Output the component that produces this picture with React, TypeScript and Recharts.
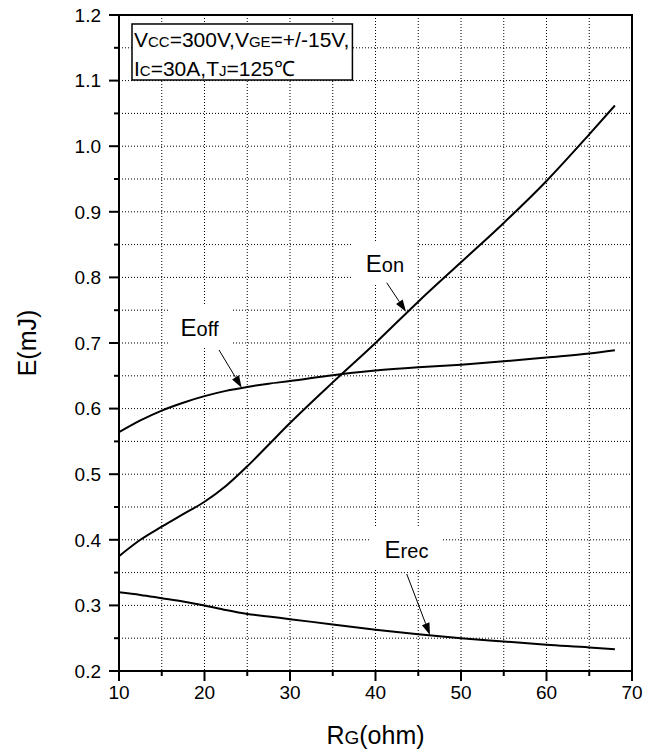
import React from 'react';
import { LineChart, Line, XAxis, YAxis, CartesianGrid, ReferenceArea, ReferenceLine } from 'recharts';

const FONT = '"Liberation Sans", Arial, sans-serif';

// Gate resistance (ohm)
const rgOhm = [10, 12.5, 15, 17.5, 20, 22.5, 25, 27.5, 30, 35, 40, 45, 50, 55, 60, 65, 68];
// Switching energies (mJ)
const eOn = [0.375, 0.4, 0.42, 0.439, 0.458, 0.482, 0.512, 0.545, 0.578, 0.64, 0.7, 0.763, 0.823, 0.883, 0.947, 1.018, 1.062];
const eOff = [0.564, 0.582, 0.597, 0.609, 0.619, 0.627, 0.633, 0.638, 0.642, 0.651, 0.658, 0.663, 0.667, 0.672, 0.678, 0.684, 0.689];
const eRec = [0.32, 0.316, 0.311, 0.306, 0.3, 0.293, 0.287, 0.283, 0.279, 0.271, 0.263, 0.256, 0.25, 0.245, 0.24, 0.236, 0.233];

const xTicks = [10, 15, 20, 25, 30, 35, 40, 45, 50, 55, 60, 65, 70];
const yTicks = [0.2, 0.25, 0.3, 0.35, 0.4, 0.45, 0.5, 0.55, 0.6, 0.65, 0.7, 0.75, 0.8, 0.85, 0.9, 0.95, 1.0, 1.05, 1.1, 1.15, 1.2];

const data = rgOhm.map((rg, i) => ({ rg, eon: eOn[i], eoff: eOff[i], erec: eRec[i] }));

// annotation anchors in data units
const condBox = { x1: 11.52, x2: 37.3, y1: 1.1009, y2: 1.1863 };
const curveLabels = [
  { main: 'E', sub: 'off', x1: 15.73, x2: 23.1, y1: 0.6924, y2: 0.7579 },
  { main: 'E', sub: 'on', x1: 37.37, x2: 44.85, y1: 0.79, y2: 0.8555 },
  { main: 'E', sub: 'rec', x1: 39.36, x2: 47.89, y1: 0.354, y2: 0.4195 },
];
const arrows = [
  { from: { x: 21.7, y: 0.6893 }, to: { x: 24.35, y: 0.6319 } },
  { from: { x: 41.31, y: 0.7919 }, to: { x: 43.57, y: 0.7477 } },
  { from: { x: 43.65, y: 0.3479 }, to: { x: 46.37, y: 0.2549 } },
];

const XTick = (props: any) => {
  const { x, y, payload } = props;
  const v = payload.value;
  const major = Math.round(v) % 10 === 0;
  return (
    <g>
      <line x1={x} y1={y} x2={x} y2={y + (major ? 10 : 5)} stroke="#000" strokeWidth={2} />
      {major && (
        <text x={x} y={y + 28} textAnchor="middle" fontSize={19} fontFamily={FONT} fill="#000">
          {v}
        </text>
      )}
    </g>
  );
};

const YTick = (props: any) => {
  const { x, y, payload } = props;
  const v = payload.value;
  const major = Math.round(v * 100) % 10 === 0;
  return (
    <g>
      <line x1={x} y1={y} x2={x - (major ? 10 : 5)} y2={y} stroke="#000" strokeWidth={2} />
      {major && (
        <text x={x - 18} y={y} dy="0.36em" textAnchor="end" fontSize={19} fontFamily={FONT} fill="#000">
          {v.toFixed(1)}
        </text>
      )}
    </g>
  );
};

const CondBoxShape = (props: any) => {
  const { x, y, width, height } = props;
  const sub = 15;
  return (
    <g>
      <rect x={x} y={y} width={width} height={height} fill="#fff" stroke="#000" strokeWidth={1.5} />
      <text x={x + 2} y={y + 23} fontSize={21} fontFamily={FONT} fill="#000">
        V<tspan fontSize={sub}>CC</tspan>=300V,V<tspan fontSize={sub}>GE</tspan>=+/-15V,
      </text>
      <text x={x + 2} y={y + 52} fontSize={21} fontFamily={FONT} fill="#000">
        I<tspan fontSize={sub}>C</tspan>=30A,T<tspan fontSize={sub}>J</tspan>=125℃
      </text>
    </g>
  );
};

const makeLabelShape = (main: string, sub: string) => (props: any) => {
  const { x, y, width, height } = props;
  return (
    <g>
      <rect x={x} y={y} width={width} height={height} fill="#fff" stroke="none" />
      <text x={x + width / 2} y={y + 31} textAnchor="middle" fontSize={24} fontFamily={FONT} fill="#000">
        {main}
        <tspan fontSize={20}>{sub}</tspan>
      </text>
    </g>
  );
};

const ArrowShape = (props: any) => {
  const x1 = Number(props.x1), y1 = Number(props.y1), x2 = Number(props.x2), y2 = Number(props.y2);
  const dx = x2 - x1, dy = y2 - y1;
  const len = Math.hypot(dx, dy) || 1;
  const ux = dx / len, uy = dy / len;
  const hl = 12, hw = 4;
  const bx = x2 - ux * hl, by = y2 - uy * hl;
  const px = -uy, py = ux;
  return (
    <g>
      <line x1={x1} y1={y1} x2={bx} y2={by} stroke="#000" strokeWidth={1} />
      <polygon
        points={`${x2},${y2} ${bx + px * hw},${by + py * hw} ${bx - px * hw},${by - py * hw}`}
        fill="#000"
      />
    </g>
  );
};

const XTitle = (props: any) => {
  const vb = props.viewBox || {};
  return (
    <text x={vb.x + vb.width / 2} y={vb.y + 73} textAnchor="middle" fontSize={25} fontFamily={FONT} fill="#000">
      R<tspan fontSize={19}>G</tspan>(ohm)
    </text>
  );
};

const YTitle = (props: any) => {
  const vb = props.viewBox || {};
  const cx = 27;
  const cy = vb.y + vb.height / 2;
  return (
    <text
      x={cx}
      y={cy}
      dy="0.36em"
      textAnchor="middle"
      fontSize={25}
      fontFamily={FONT}
      fill="#000"
      transform={`rotate(-90, ${cx}, ${cy})`}
    >
      E(mJ)
    </text>
  );
};

export default function App() {
  return (
    <div style={{ width: 655, height: 752, background: '#fff', margin: '-8px 0 0 -8px' }}>
      <LineChart width={655} height={752} data={data} margin={{ top: 15, right: 23, left: 0, bottom: 0 }}>
        <CartesianGrid
          stroke="#000"
          strokeDasharray="1 2"
          strokeWidth={1}
          horizontalValues={yTicks}
          verticalValues={xTicks}
        />
        <XAxis
          type="number"
          dataKey="rg"
          domain={[10, 70]}
          ticks={xTicks}
          interval={0}
          tickSize={0}
          tickMargin={0}
          tickLine={false}
          tick={<XTick />}
          axisLine={{ stroke: '#000', strokeWidth: 2 }}
          height={81}
          allowDataOverflow
          label={{ content: <XTitle /> } as any}
        />
        <YAxis
          type="number"
          domain={[0.2, 1.2]}
          ticks={yTicks}
          interval={0}
          tickSize={0}
          tickMargin={0}
          tickLine={false}
          tick={<YTick />}
          axisLine={{ stroke: '#000', strokeWidth: 2 }}
          width={119}
          allowDataOverflow
          label={{ content: <YTitle /> } as any}
        />
        <ReferenceArea
          x1={condBox.x1}
          x2={condBox.x2}
          y1={condBox.y1}
          y2={condBox.y2}
          shape={<CondBoxShape />}
        />
        {curveLabels.map((l) => (
          <ReferenceArea
            key={l.sub}
            x1={l.x1}
            x2={l.x2}
            y1={l.y1}
            y2={l.y2}
            shape={makeLabelShape(l.main, l.sub)}
          />
        ))}
        {arrows.map((a, i) => (
          <ReferenceLine key={i} segment={[a.from, a.to]} shape={ArrowShape} />
        ))}
        <Line type="monotone" dataKey="eon" stroke="#000" strokeWidth={2} dot={false} isAnimationActive={false} />
        <Line type="monotone" dataKey="eoff" stroke="#000" strokeWidth={2} dot={false} isAnimationActive={false} />
        <Line type="monotone" dataKey="erec" stroke="#000" strokeWidth={2} dot={false} isAnimationActive={false} />
        <ReferenceArea x1={10} x2={70} y1={0.2} y2={1.2} fill="none" fillOpacity={0} stroke="#000" strokeWidth={2} />
      </LineChart>
    </div>
  );
}
